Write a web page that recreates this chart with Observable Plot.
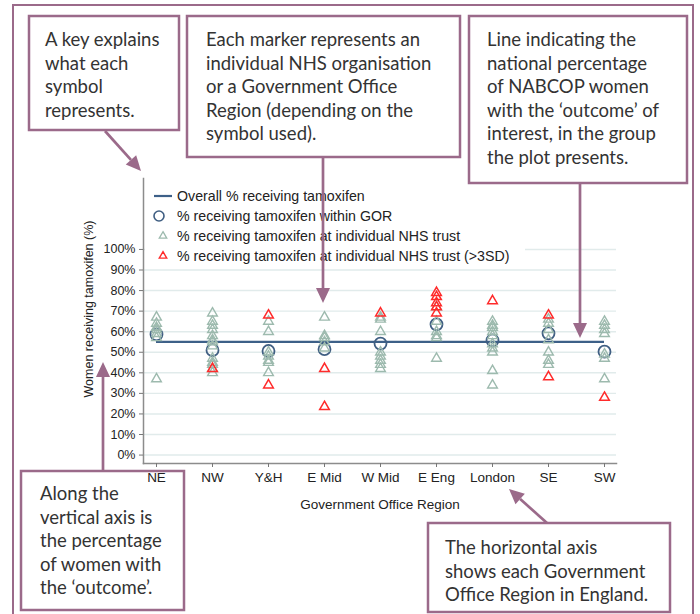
<!DOCTYPE html>
<html><head><meta charset="utf-8">
<script src="https://cdn.jsdelivr.net/npm/d3@7"></script>
<script src="https://cdn.jsdelivr.net/npm/@observablehq/plot@0.6"></script>
<style>
html,body{margin:0;padding:0;background:#fff;}
#wrap{position:relative;width:700px;height:614px;overflow:hidden;background:#fff;}
#wrap > svg{position:absolute;left:0;top:0;}
</style></head><body><div id="wrap"></div>
<script>
// ---- data ----
const regions = ["NE","NW","Y&H","E Mid","W Mid","E Eng","London","SE","SW"];
const gorPct = [58.7, 51, 50.6, 51.5, 54.2, 63.6, 55.8, 59.2, 50.3];
const overallPct = 55;
const trustPct = [
  [67, 64, 62, 61, 59, 57, 37],
  [69, 65, 63, 61, 58, 56, 55, 53, 47, 45, 44, 42, 40],
  [65, 60, 50, 48, 46, 45, 40],
  [67, 58, 57, 55, 52],
  [67, 66, 60, 50, 48, 46, 44, 42],
  [72, 65, 60, 58, 57, 47],
  [65, 63, 62, 60, 58, 54, 52, 50, 41, 34],
  [66, 64, 61, 56, 50, 46, 44],
  [65, 63, 61, 59, 49, 47, 37]
];
const trustOutlierPct = [
  [],
  [42],
  [68, 34],
  [42, 23.5],
  [69],
  [79, 77, 74, 72, 69],
  [75],
  [68, 38],
  [28]
];
const yTicks = [0,10,20,30,40,50,60,70,80,90,100];
const xTitle = "Government Office Region";
const yTitle = "Women receiving tamoxifen (%)";
const legendLabels = [
  "Overall % receiving tamoxifen",
  "% receiving tamoxifen within GOR",
  "% receiving tamoxifen at individual NHS trust",
  "% receiving tamoxifen at individual NHS trust (>3SD)"
];
const noteKey = ["A key explains","what each","symbol","represents."];
const noteMarker = ["Each marker represents an","individual NHS organisation","or a Government Office","Region (depending on the","symbol used)."];
const noteLine = ["Line indicating the","national percentage","of NABCOP women","with the \u2018outcome\u2019 of","interest, in the group","the plot presents."];
const noteVertical = ["Along the","vertical axis is","the percentage","of women with","the \u2018outcome\u2019."];
const noteHorizontal = ["The horizontal axis","shows each Government","Office Region in England."];

// ---- colours ----
const cLine = "#3d6088", cGor = "#3f5e82", cTrust = "#9dbaae", cOut = "#ff2b2b";
const cNote = "#9b6a8a", cText = "#222";

const gorData = regions.map((r,i)=>({region:r, pct:gorPct[i]}));
const trustData = regions.flatMap((r,i)=>trustPct[i].map(v=>({region:r, pct:v})));
const outData = regions.flatMap((r,i)=>trustOutlierPct[i].map(v=>({region:r, pct:v})));
const overall = [{pct:overallPct, a:regions[0], b:regions[regions.length-1]}];

const chart = Plot.plot({
  width:700, height:614,
  marginLeft:143, marginRight:84, marginTop:178, marginBottom:151,
  style:{background:"transparent", fontFamily:"'Liberation Sans', Arial, sans-serif", color:cText, overflow:"visible"},
  x:{type:"point", domain:regions, range:[152,607], padding:0, axis:null},
  y:{domain:[-4.1,134.5], range:[463,178], axis:null},
  marks:[
    Plot.ruleY(yTicks, {stroke:"#e1ebeb", strokeWidth:1.4}),
    Plot.frame({anchor:"left", stroke:"#8c8c8c", strokeWidth:1.5}),
    Plot.frame({anchor:"bottom", stroke:"#8c8c8c", strokeWidth:1.5}),
    Plot.axisY(yTicks, {anchor:"left", tickSize:4, tickPadding:4, tickFormat:d=>d+"%", fontSize:12.5, stroke:"#777", fill:cText, label:null}),
    Plot.axisX(regions, {anchor:"bottom", tickSize:4, tickPadding:5, fontSize:13.5, stroke:"#777", fill:cText, label:null}),
    Plot.text([yTitle], {frameAnchor:"left", textAnchor:"middle", dx:-55, dy:-12, rotate:-90, fontSize:12.5, fill:cText}),
    Plot.text([xTitle], {frameAnchor:"bottom", dy:45, fontSize:13.5, fill:cText}),
    Plot.ruleY(overall, {y:"pct", x1:"a", x2:"b", stroke:cLine, strokeWidth:2.2}),
    Plot.dot(gorData, {x:"region", y:"pct", r:6, stroke:cGor, strokeWidth:1.8}),
    Plot.dot(trustData, {x:"region", y:"pct", symbol:"triangle", r:3.6, stroke:cTrust, strokeWidth:1.4}),
    Plot.dot(outData, {x:"region", y:"pct", symbol:"triangle", r:3.6, stroke:cOut, strokeWidth:1.5})
  ]
});
const wrap = document.getElementById("wrap");
wrap.appendChild(chart);

// ---- overlay: legend + annotation boxes + arrows ----
const ns = "http://www.w3.org/2000/svg";
const ov = d3.select(wrap).append("svg").attr("width",700).attr("height",614)
  .attr("xmlns", ns).style("position","absolute").style("left",0).style("top",0);

// legend
const lg = ov.append("g").attr("font-family","'Liberation Sans', Arial, sans-serif").attr("font-size",14.2).attr("fill",cText);
lg.append("rect").attr("x",145).attr("y",185).attr("width",380).attr("height",79).attr("fill","#fff");
const rowY = [196, 216, 236, 256];
lg.append("line").attr("x1",154).attr("x2",172).attr("y1",rowY[0]).attr("y2",rowY[0]).attr("stroke",cLine).attr("stroke-width",2.2);
lg.append("circle").attr("cx",159).attr("cy",rowY[1]).attr("r",5).attr("fill","none").attr("stroke",cGor).attr("stroke-width",1.6);
const tri = d3.symbol(d3.symbolTriangle2, 40);
lg.append("path").attr("d",tri()).attr("transform",`translate(163,${rowY[2]})`).attr("fill","none").attr("stroke",cTrust).attr("stroke-width",1.3);
lg.append("path").attr("d",tri()).attr("transform",`translate(163,${rowY[3]})`).attr("fill","none").attr("stroke",cOut).attr("stroke-width",1.4);
legendLabels.forEach((t,i)=>{
  lg.append("text").attr("x",177).attr("y",rowY[i]).attr("dy","0.35em").text(t);
});

// outer frame
ov.append("rect").attr("x",13).attr("y",5).attr("width",680).attr("height",640)
  .attr("fill","none").attr("stroke",cNote).attr("stroke-width",2);

function box(x0,y0,x1,y1,lines,tx,by,fill){
  ov.append("rect").attr("x",x0).attr("y",y0).attr("width",x1-x0).attr("height",y1-y0)
    .attr("fill",fill).attr("stroke",cNote).attr("stroke-width",2.5);
  const g = ov.append("g").attr("font-family","Lato, 'Noto Sans', sans-serif").attr("font-size",18.5).attr("fill","#333");
  lines.forEach((t,i)=>g.append("text").attr("x",tx).attr("y",by + i*23.6).text(t));
}
function arrow(x1,y1,x2,y2){
  const dx=x2-x1, dy=y2-y1, L=Math.hypot(dx,dy), ux=dx/L, uy=dy/L;
  const hl=15, hw=7;
  const bx=x2-ux*hl, by=y2-uy*hl;
  ov.append("line").attr("x1",x1).attr("y1",y1).attr("x2",bx).attr("y2",by)
    .attr("stroke",cNote).attr("stroke-width",2.7);
  ov.append("path").attr("d",`M${x2},${y2}L${bx-uy*hw},${by+ux*hw}L${bx+uy*hw},${by-ux*hw}Z`).attr("fill",cNote);
}
box(29,16,179,130,noteKey,45,46,"#fff");
box(187,16,460,157,noteMarker,206,46,"#fff");
box(469,16,687,183,noteLine,487,46,"#fff");
box(21,471,184,610,noteVertical,40,500,"none");
box(428,523,670,612,noteHorizontal,445,554,"#fff");
arrow(105,131,141,171);
arrow(323,157,323,303);
arrow(580,183,580,338);
arrow(103,471,103,362);
arrow(547,523,509,489);
</script></body></html>
